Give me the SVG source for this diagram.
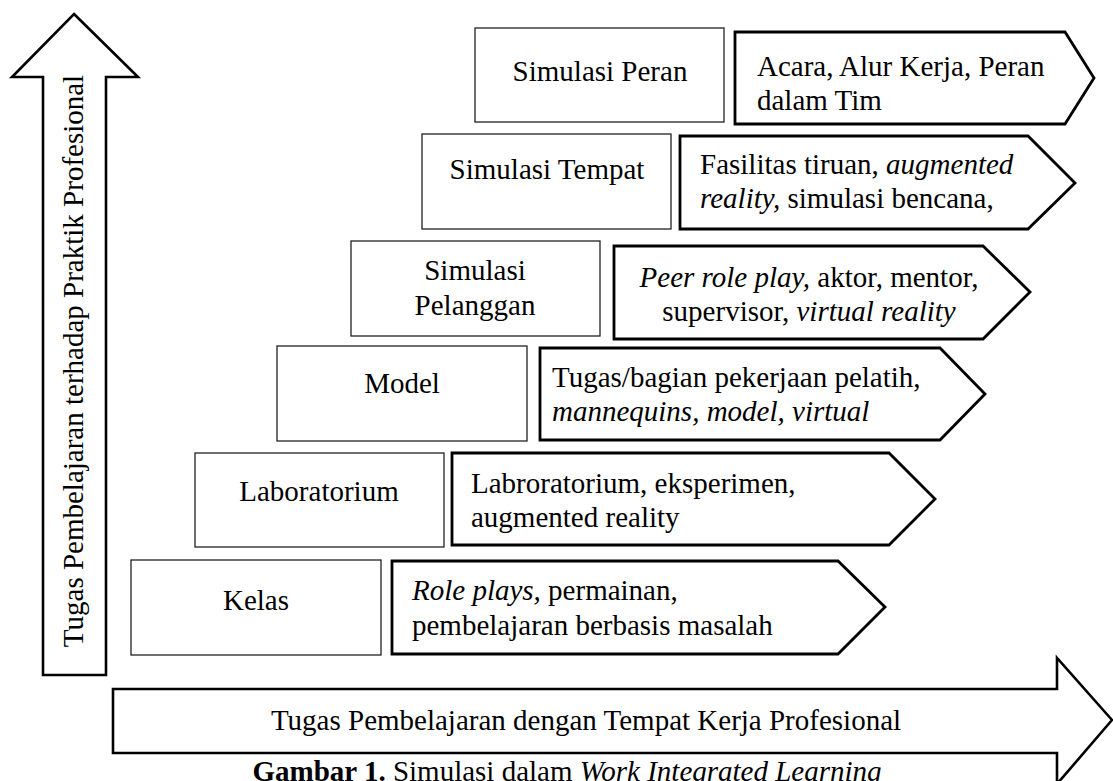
<svg xmlns="http://www.w3.org/2000/svg" width="1113" height="781" viewBox="0 0 1113 781" font-family="'Liberation Serif', 'Times New Roman', serif" font-size="29">
<style>
text{font-family:'Liberation Serif','Times New Roman',serif;font-size:29px;fill:#000}
.box{fill:#fff;stroke:#222;stroke-width:1.3}
.arr{fill:#fff;stroke:#000;stroke-width:2.8;stroke-linejoin:miter}
.big{fill:#fff;stroke:#000;stroke-width:2.6}
.c{text-anchor:middle}
.i{font-style:italic}
.b{font-weight:bold}
</style>
<rect width="1113" height="781" fill="#fff"/>
<g id="connectors">
<g id="axis-up">
<polygon class="big" points="74,14 138,77 106,77 106,675 43,675 43,77 12,77"/>
<text class="c" transform="rotate(-90 83 361)" x="83" y="361">Tugas Pembelajaran terhadap Praktik Profesional</text>
</g>
<g id="axis-right">
<polygon class="big" points="113,689 1057,689 1057,658 1112,720 1057,784 1057,753 113,753"/>
<text class="c" x="586" y="730">Tugas Pembelajaran dengan Tempat Kerja Profesional</text>
</g>
</g>
<g id="row-peran">
<rect class="box" x="475" y="28" width="249" height="94"/>
<text class="c" x="600" y="81">Simulasi Peran</text>
<polygon class="arr" points="735,32 1065,32 1094,78 1065,124 735,124"/>
<text x="757" y="76">Acara, Alur Kerja, Peran</text>
<text x="757" y="110">dalam Tim</text>
</g>
<g id="row-tempat">
<rect class="box" x="422" y="134" width="249" height="95"/>
<text class="c" x="547" y="179">Simulasi Tempat</text>
<polygon class="arr" points="680,136 1028,136 1075,183 1028,229 680,229"/>
<text x="700" y="174">Fasilitas tiruan, <tspan class="i">augmented</tspan></text>
<text x="700" y="208"><tspan class="i">reality,</tspan> simulasi bencana,</text>
</g>
<g id="row-pelanggan">
<rect class="box" x="351" y="241" width="249" height="95"/>
<text class="c" x="475" y="280">Simulasi</text>
<text class="c" x="475" y="315">Pelanggan</text>
<polygon class="arr" points="614,246 983,246 1030,292 983,339 614,339"/>
<text class="c" x="809" y="287"><tspan class="i">Peer role play,</tspan> aktor, mentor,</text>
<text class="c" x="809" y="321">supervisor, <tspan class="i">virtual reality</tspan></text>
</g>
<g id="row-model">
<rect class="box" x="277" y="346" width="250" height="95"/>
<text class="c" x="402" y="393">Model</text>
<polygon class="arr" points="540,348 940,348 985,394 940,440 540,440"/>
<text x="552" y="387">Tugas/bagian pekerjaan pelatih,</text>
<text class="i" x="552" y="421">mannequins, model, virtual</text>
</g>
<g id="row-lab">
<rect class="box" x="195" y="453" width="249" height="94"/>
<text class="c" x="319" y="501">Laboratorium</text>
<polygon class="arr" points="452,453 889,453 935,499 889,545 452,545"/>
<text x="471" y="493">Labroratorium, eksperimen,</text>
<text x="471" y="527">augmented reality</text>
</g>
<g id="row-kelas">
<rect class="box" x="131" y="560" width="250" height="95"/>
<text class="c" x="256" y="610">Kelas</text>
<polygon class="arr" points="392,561 838,561 885,607 838,654 392,654"/>
<text x="412" y="600"><tspan class="i">Role plays,</tspan> permainan,</text>
<text x="412" y="635">pembelajaran berbasis masalah</text>
</g>
<g id="caption">
<text class="c" x="567" y="781"><tspan class="b">Gambar 1.</tspan> Simulasi dalam <tspan class="i">Work Integrated Learning</tspan></text>
</g>
</svg>
